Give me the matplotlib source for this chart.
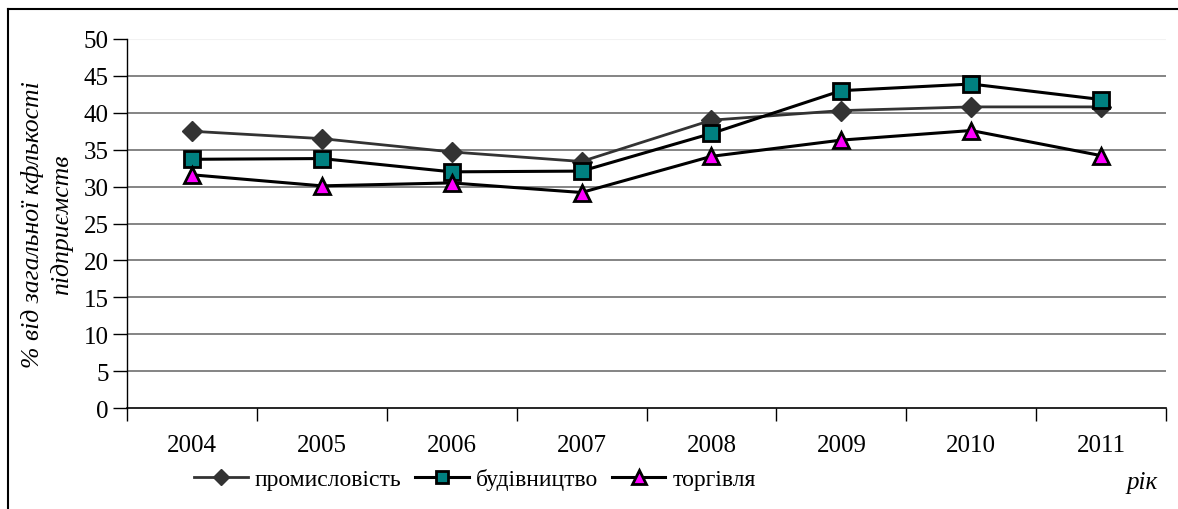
import matplotlib
matplotlib.use("Agg")
import matplotlib.pyplot as plt
from matplotlib.lines import Line2D

years = ["2004", "2005", "2006", "2007", "2008", "2009", "2010", "2011"]
industry = [37.5, 36.5, 34.7, 33.4, 39.0, 40.3, 40.8, 40.8]
construction = [33.7, 33.8, 32.0, 32.1, 37.2, 43.0, 43.9, 41.8]
trade = [31.6, 30.1, 30.5, 29.2, 34.1, 36.3, 37.6, 34.2]
yticks = list(range(0, 51, 5))

plt.rcParams['font.family'] = ['Liberation Serif', 'DejaVu Serif']

W, H = 1178, 510
fig = plt.figure(figsize=(W / 100, H / 100), dpi=100)
ax = fig.add_axes([127 / W, 1 - 409 / H, (1166 - 127) / W, (409 - 40) / H])

x = list(range(len(years)))
for yv in yticks[1:-1]:
    ax.axhline(yv, color='#707070', lw=1.2, zorder=1)
ax.axhline(50, color='#f2f2f2', lw=0.8, zorder=1)

ax.plot(x, industry, color='#333333', lw=2, marker='D', ms=10,
        mfc='#333333', mec='#333333', label='промисловість', zorder=3)
ax.plot(x, construction, color='black', lw=2.2, marker='s', ms=11,
        mfc='#008080', mec='black', mew=2, label='будівництво', zorder=4)
ax.plot(x, trade, color='black', lw=2.2, marker='^', ms=12,
        mfc='#ff00ff', mec='black', mew=2, label='торгівля', zorder=5)

ax.set_xlim(-0.5, len(years) - 0.5)
ax.set_ylim(0, 50)
ax.set_yticks(yticks)
ax.tick_params(axis='y', direction='out', length=10, width=1, labelsize=18, pad=3)
ax.set_xticks(x)
ax.set_xticklabels(years)
ax.tick_params(axis='x', which='major', length=0, labelsize=18, pad=19)
ax.set_xticks([i - 0.5 for i in range(len(years) + 1)], minor=True)
ax.tick_params(axis='x', which='minor', direction='out', length=9, width=1)

for s in ['top', 'right']:
    ax.spines[s].set_visible(False)
ax.spines['left'].set_color('black')
ax.spines['bottom'].set_color('black')
ax.spines['left'].set_linewidth(1)
ax.spines['bottom'].set_linewidth(1.2)

ax.set_ylabel('% від загальної кфлькості\nпідприємств', fontsize=18.5,
              style='italic', labelpad=8, linespacing=1.3)

leg = fig.legend(loc='center left', bbox_to_anchor=(185 / W, 1 - 480 / H),
                 ncol=3, frameon=False, fontsize=17, handlelength=2.25,
                 handletextpad=0.3, columnspacing=0.6, borderaxespad=0,
                 markerscale=0.8)

fig.text(1158 / W, 1 - 483 / H, 'рік', fontsize=18, style='italic',
         ha='right', va='center')

fig.add_artist(Line2D([8 / W, 8 / W], [0, 1 - 10 / H], color='black', lw=1.5,
                      transform=fig.transFigure))
fig.add_artist(Line2D([8 / W, 1], [1 - 10 / H, 1 - 10 / H], color='black',
                      lw=1.5, transform=fig.transFigure))

fig.savefig('out.png', dpi=100)
